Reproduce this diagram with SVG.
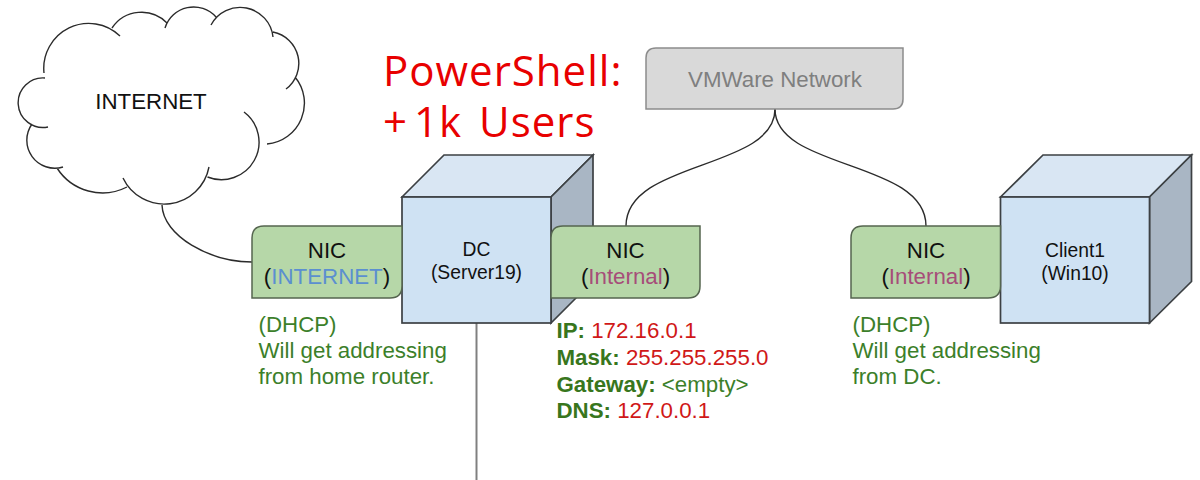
<svg xmlns="http://www.w3.org/2000/svg" width="1200" height="480" viewBox="0 0 1200 480">
<style>
text{font-family:"Liberation Sans",Arial,sans-serif;font-size:22.3px;fill:#111}
.m{text-anchor:middle}
.s{font-size:19.3px}
.g{fill:#3c7f2a}
.gb{fill:#38761d;font-weight:bold}
.r{fill:#d01818}
.title{font-family:"Open Sans",sans-serif;font-size:42px;fill:#e80000;letter-spacing:1px}
.line{fill:none;stroke:#2b2b2b;stroke-width:1.4}
.nic{fill:#b6d7a8;stroke:#55654f;stroke-width:1.5}
.front{fill:#cfe2f3;stroke:#3c4043;stroke-width:1.7}
.top{fill:#d9e6f3;stroke:#3c4043;stroke-width:1.7}
.side{fill:#a9b6c4;stroke:#3c4043;stroke-width:1.7}
</style>
<rect width="1200" height="480" fill="#fff"/>
<g id="connectors">
<path class="line" d="M162 205C163 236 210 262 252 262"/>
<path class="line" d="M775 109C775 170 626 160 626 226"/>
<path class="line" d="M775 109C775 170 926 160 926 226"/>
<path d="M476.5 323V480" fill="none" stroke="#808080" stroke-width="2"/>
</g>
<g id="internet">
<path class="line" d="M120 36A45 45 0 0 0 44 73M45 78A24.800 24.800 0 1 0 48 127M32 124A28 28 0 0 0 63 167M57 168A54 54 0 0 0 127 187M123 178A45.600 45.600 0 0 0 209 167M207.500 177A37.600 37.600 0 0 0 244 112M267 144A41 41 0 0 0 295 77M286 89A32 32 0 0 0 273 32M273 37A33 33 0 0 0 211 25M216 17A30 30 0 0 0 165 28M167 23A35.600 35.600 0 0 0 112 28"/>
<text class="m" x="151" y="108.500">INTERNET</text>
</g>
<g id="title">
<text class="title" x="383" y="86">PowerShell:</text>
<text class="title" x="383" y="137">+<tspan dx="6">1k</tspan><tspan dx="5"> Users</tspan></text>
</g>
<g id="vmware">
<path d="M656 48H903V99Q903 109 893 109H646V58Q646 48 656 48Z" fill="#d9d9d9" stroke="#8c8c8c" stroke-width="1.500"/>
<text class="m" x="775" y="87" style="fill:#7f7f7f">VMWare Network</text>
</g>
<g id="dc">
<path class="top" d="M402 197L444 155H593L551 197Z"/>
<path class="side" d="M551 197L593 155V281L551 323Z"/>
<rect class="front" x="402" y="197" width="149" height="126"/>
<text class="m s" x="476.500" y="256">DC</text>
<text class="m s" x="476.500" y="279">(Server19)</text>
</g>
<g id="nic-internet">
<path class="nic" d="M264 226H402V286Q402 298 390 298H252V238Q252 226 264 226Z"/>
<text class="m" x="327" y="257.500">NIC</text>
<text class="m" x="327" y="284">(<tspan style="fill:#5b8fd0">INTERNET</tspan>)</text>
<text class="g" x="258.500" y="332">(DHCP)</text>
<text class="g" x="258.500" y="358">Will get addressing</text>
<text class="g" x="258.500" y="384">from home router.</text>
</g>
<g id="nic-dc-internal">
<path class="nic" d="M563 226H700V286Q700 298 688 298H551V238Q551 226 563 226Z"/>
<text class="m" x="625.500" y="257.500">NIC</text>
<text class="m" x="625.500" y="284">(<tspan style="fill:#a64d79">Internal</tspan>)</text>
<text x="556.500" y="338"><tspan class="gb">IP:</tspan> <tspan class="r">172.16.0.1</tspan></text>
<text x="556.500" y="365"><tspan class="gb">Mask:</tspan> <tspan class="r">255.255.255.0</tspan></text>
<text x="556.500" y="392"><tspan class="gb">Gateway:</tspan> <tspan class="g">&lt;empty&gt;</tspan></text>
<text x="556.500" y="418"><tspan class="gb">DNS:</tspan> <tspan class="r">127.0.0.1</tspan></text>
</g>
<g id="client1">
<path class="top" d="M1000.500 197L1043 155H1191.500L1149.500 197Z"/>
<path class="side" d="M1149.500 197L1191.500 155V281.500L1149.500 323Z"/>
<rect class="front" x="1000.500" y="197" width="149" height="126"/>
<text class="m s" x="1075" y="256.500">Client1</text>
<text class="m s" x="1075" y="280">(Win10)</text>
</g>
<g id="nic-client">
<path class="nic" d="M863 226H1000.500V286Q1000.500 298 988 298H851V238Q851 226 863 226Z"/>
<text class="m" x="926" y="257.500">NIC</text>
<text class="m" x="926" y="284">(<tspan style="fill:#a64d79">Internal</tspan>)</text>
<text class="g" x="852.500" y="332">(DHCP)</text>
<text class="g" x="852.500" y="358">Will get addressing</text>
<text class="g" x="852.500" y="384">from DC.</text>
</g>
</svg>
